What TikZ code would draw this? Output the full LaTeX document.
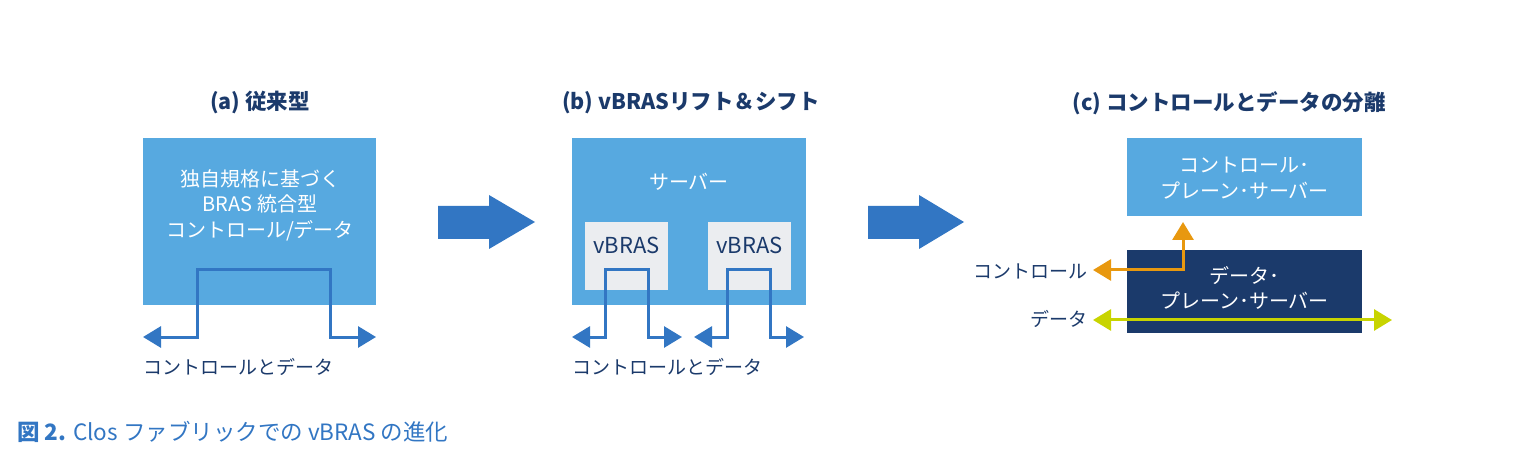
\documentclass[tikz,border=0pt]{standalone}
\usepackage{fontspec}
\setmainfont{Noto Sans CJK JP}
\usetikzlibrary{arrows.meta}
\definecolor{boxblue}{HTML}{57A9E0}
\definecolor{navy}{HTML}{1B3A6B}
\definecolor{linkblue}{HTML}{3276C3}
\definecolor{vgray}{HTML}{EBEDF0}
\definecolor{orng}{HTML}{E8980F}
\definecolor{lime}{HTML}{C8D400}
\tikzset{
  title/.style={text=navy,font=\fontsize{21.5}{25}\selectfont\bfseries,inner sep=0pt},
  boxtext/.style={text=white,font=\fontsize{20}{25.5}\selectfont,align=center,inner sep=0pt},
  label/.style={text=navy,font=\fontsize{19}{22}\selectfont,inner sep=0pt},
  lbox/.style={fill=boxblue,draw=none,inner sep=0pt},
  dbox/.style={fill=navy,draw=none,inner sep=0pt},
  vbox/.style={fill=vgray,draw=none,inner sep=0pt,text=navy,font=\fontsize{22}{25}\selectfont},
  flowline/.style={draw=linkblue,line width=3pt,{Triangle[width=21pt,length=18pt]}-{Triangle[width=21pt,length=18pt]}},
  ctrlline/.style={draw=orng,line width=3pt,{Triangle[width=21pt,length=18pt]}-{Triangle[width=21pt,length=18pt]}},
  dataline/.style={draw=lime,line width=3pt,{Triangle[width=21pt,length=18pt]}-{Triangle[width=21pt,length=18pt]}},
  bigarrow/.style={fill=linkblue,draw=none},
}
\begin{document}
\begin{tikzpicture}[x=1pt,y=-1pt]
\useasboundingbox (0,0) rectangle (1526,462);
% ---- (a)
\node[title] (ta) at (260,103) {(a) 従来型};
\node[lbox,minimum width=233pt,minimum height=167pt] (A) at (259.5,221.5) {};
\node[boxtext] (Atext) at (260,205) {独自規格に基づく\\BRAS 統合型\\コントロール/データ};
\coordinate (aL) at (143,337);
\coordinate (aR) at (376,337);
\draw[flowline] (aL) -| (197,270) -| (330,337) -- (aR);
\node[label,anchor=west] (la) at (143,367) {コントロールとデータ};
% ---- big arrow 1
\fill[bigarrow] (438,206) -- (489,206) -- (489,195) -- (535,222) -- (489,249) -- (489,239) -- (438,239) -- cycle;
% ---- (b)
\node[title] (tb) at (691,103) {(b) vBRASリフト＆シフト};
\node[lbox,minimum width=234pt,minimum height=167pt] (B) at (689,221.5) {};
\node[boxtext] (Btext) at (689,182) {サーバー};
\node[vbox,minimum width=83pt,minimum height=68pt] (V1) at (626.5,256) {};
\node[vbox,minimum width=83pt,minimum height=68pt] (V2) at (749.5,256) {};
\node[vbox,fill=none] (V1t) at (626.5,245) {vBRAS};
\node[vbox,fill=none] (V2t) at (749.5,245) {vBRAS};
\coordinate (b1L) at (572,337);
\coordinate (b1R) at (682,337);
\coordinate (b2L) at (694,337);
\coordinate (b2R) at (804,337);
\draw[flowline] (b1L) -| (605,270) -| (648,337) -- (b1R);
\draw[flowline] (b2L) -| (727,270) -| (770,337) -- (b2R);
\node[label,anchor=west] (lb) at (572,367) {コントロールとデータ};
% ---- big arrow 2
\fill[bigarrow] (868,206) -- (919,206) -- (919,195) -- (964,222) -- (919,249) -- (919,239) -- (868,239) -- cycle;
% ---- (c)
\node[title] (tc) at (1229,103) {(c) コントロールとデータの分離};
\node[lbox,minimum width=235pt,minimum height=78pt] (C1) at (1244.5,177) {};
\node[boxtext] (C1t) at (1244.5,178) {コントロール･\\プレーン･サーバー};
\node[dbox,minimum width=235pt,minimum height=83pt] (C2) at (1244.5,291.5) {};
\node[boxtext] (C2t) at (1244.5,288) {データ･\\プレーン･サーバー};
\coordinate (cUp) at (1183,222);
\coordinate (cL) at (1093,270);
\draw[ctrlline] (cUp) |- (cL);
\coordinate (dL) at (1093,320);
\coordinate (dR) at (1392,320);
\draw[dataline] (dL) -- (dR);
\node[label,anchor=east] (lc) at (1088,271) {コントロール};
\node[label,anchor=east] (ld) at (1088,319) {データ};
% ---- caption
\node[anchor=west,text=linkblue,font=\fontsize{22.5}{26}\selectfont,inner sep=0pt] (cap) at (17,432) {{\bfseries 図 2.} Clos ファブリックでの vBRAS の進化};
\end{tikzpicture}
\end{document}
